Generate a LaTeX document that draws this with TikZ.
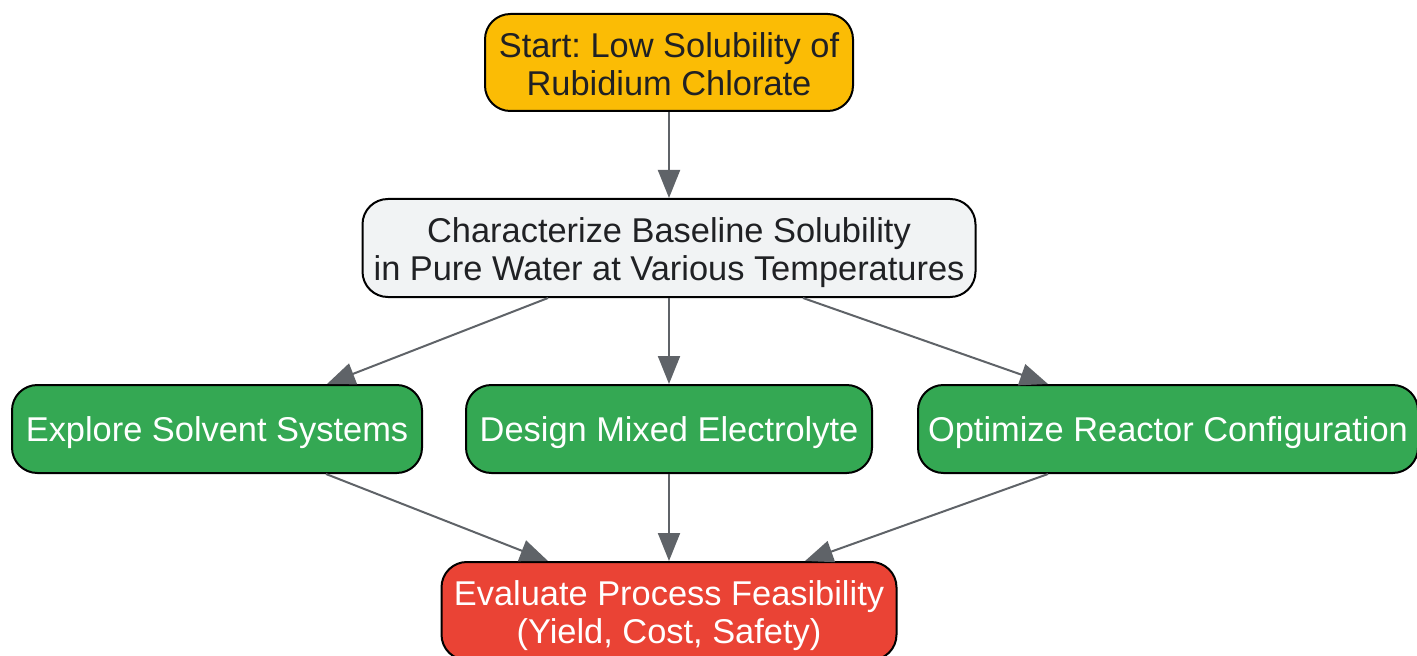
\documentclass[tikz,border=0pt]{standalone}
\usepackage{fontspec}
\setmainfont{Liberation Sans}
\usetikzlibrary{arrows.meta}
\frenchspacing
\definecolor{cyellow}{HTML}{FBBC05}
\definecolor{cgray}{HTML}{F1F3F4}
\definecolor{cgreen}{HTML}{34A853}
\definecolor{cred}{HTML}{EA4335}
\definecolor{cline}{HTML}{5F6368}
\definecolor{ctext}{HTML}{202124}
\newcommand\boxtext[2][3.5pt]{\raisebox{-#1}[\height][\depth]{\begin{tabular}{@{}c@{}}#2\end{tabular}}}
\tikzset{
  box/.style={draw=black, line width=1.5pt, rounded corners=19pt, inner sep=0pt,
    font=\fontsize{25.8pt}{28.9pt}\selectfont},
  darkbox/.style={box, text=ctext},
  lightbox/.style={box, text=white},
  conn/.style={draw=cline, line width=1.5pt,
    -{Triangle[length=21pt, width=16.5pt]}},
}
\begin{document}
\begin{tikzpicture}[x=0.75pt, y=-0.75pt]
\useasboundingbox (0,0) rectangle (1417,656);
\node[darkbox, fill=cyellow, minimum width=368*0.75pt, minimum height=97*0.75pt] (start) at (669,62.5) {\boxtext[4.8pt]{Start: Low Solubility of\\Rubidium Chlorate}};
\node[darkbox, fill=cgray, minimum width=613*0.75pt, minimum height=98*0.75pt] (char) at (669,248) {\boxtext[4.5pt]{Characterize Baseline Solubility\\in Pure Water at Various Temperatures}};
\node[lightbox, fill=cgreen, minimum width=410*0.75pt, minimum height=88*0.75pt] (expl) at (217,429) {\boxtext{Explore Solvent Systems}};
\node[lightbox, fill=cgreen, minimum width=406*0.75pt, minimum height=88*0.75pt] (design) at (669,429) {\boxtext{Design Mixed Electrolyte}};
\node[lightbox, fill=cgreen, minimum width=500*0.75pt, minimum height=88*0.75pt] (opt) at (1168,429) {\boxtext{Optimize Reactor Configuration}};
\node[lightbox, fill=cred, minimum width=455*0.75pt, minimum height=98*0.75pt] (eval) at (669,611) {\boxtext[4.2pt]{Evaluate Process Feasibility\\(Yield, Cost, Safety)}};
\draw[conn] (start.south) -- (char.north);
\draw[conn] ([xshift=-121*0.75pt]char.south) -- ([xshift=110*0.75pt]expl.north);
\draw[conn] (char.south) -- (design.north);
\draw[conn] ([xshift=134*0.75pt]char.south) -- ([xshift=-120*0.75pt]opt.north);
\draw[conn] ([xshift=109*0.75pt]expl.south) -- ([xshift=-121*0.75pt]eval.north);
\draw[conn] (design.south) -- (eval.north);
\draw[conn] ([xshift=-120*0.75pt]opt.south) -- ([xshift=136*0.75pt]eval.north);
\end{tikzpicture}
\end{document}
